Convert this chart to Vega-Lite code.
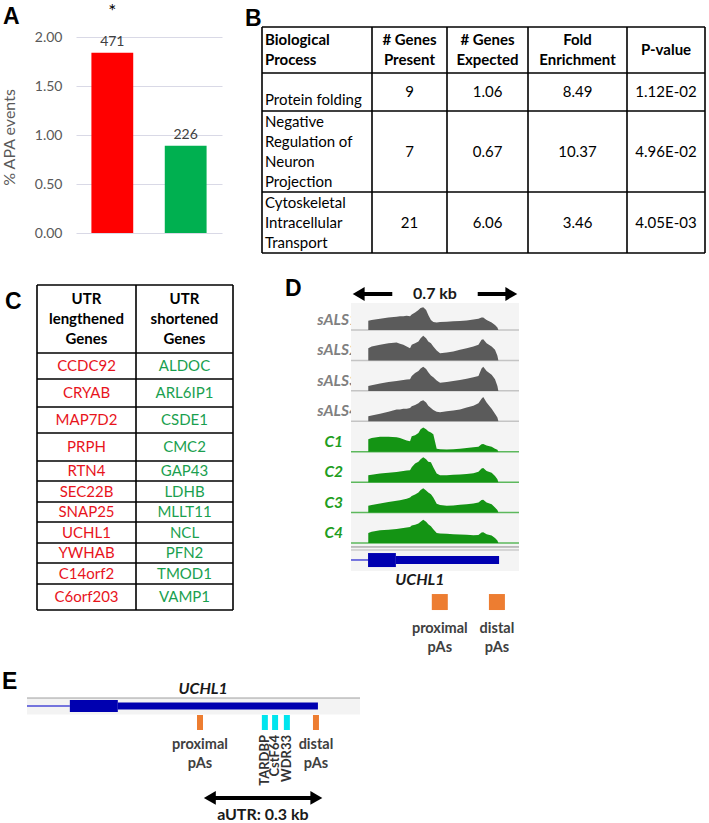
{
  "$schema": "https://vega.github.io/schema/vega-lite/v6.json",
  "padding": {"left": 1, "top": 0, "right": 0, "bottom": 0},
  "background": "white",
  "config": {
    "view": {"stroke": null},
    "font": "Lato",
    "title": {"font": "Liberation Sans", "fontSize": 23, "fontWeight": "bold", "anchor": "start", "frame": "group", "offset": 0, "baseline": "alphabetic", "color": "#000000"}
  },
  "columns": 2,
  "align": "each",
  "bounds": "flush",
  "spacing": 0,
  "resolve": {"scale": {"color": "independent"}},
  "datasets": {
    "tableB": [
      {"row": 0, "col": 0, "text": "Biological\nProcess"},
      {"row": 0, "col": 1, "text": "# Genes\nPresent"},
      {"row": 0, "col": 2, "text": "# Genes\nExpected"},
      {"row": 0, "col": 3, "text": "Fold\nEnrichment"},
      {"row": 0, "col": 4, "text": "P-value"},
      {"row": 1, "col": 0, "text": "Protein folding"},
      {"row": 1, "col": 1, "text": "9"},
      {"row": 1, "col": 2, "text": "1.06"},
      {"row": 1, "col": 3, "text": "8.49"},
      {"row": 1, "col": 4, "text": "1.12E-02"},
      {"row": 2, "col": 0, "text": "Negative\nRegulation of\nNeuron\nProjection"},
      {"row": 2, "col": 1, "text": "7"},
      {"row": 2, "col": 2, "text": "0.67"},
      {"row": 2, "col": 3, "text": "10.37"},
      {"row": 2, "col": 4, "text": "4.96E-02"},
      {"row": 3, "col": 0, "text": "Cytoskeletal\nIntracellular\nTransport"},
      {"row": 3, "col": 1, "text": "21"},
      {"row": 3, "col": 2, "text": "6.06"},
      {"row": 3, "col": 3, "text": "3.46"},
      {"row": 3, "col": 4, "text": "4.05E-03"}
    ],
    "genesC": [
      {"col": 0, "row": 1, "change": "lengthened", "gene": "CCDC92"},
      {"col": 0, "row": 2, "change": "lengthened", "gene": "CRYAB"},
      {"col": 0, "row": 3, "change": "lengthened", "gene": "MAP7D2"},
      {"col": 0, "row": 4, "change": "lengthened", "gene": "PRPH"},
      {"col": 0, "row": 5, "change": "lengthened", "gene": "RTN4"},
      {"col": 0, "row": 6, "change": "lengthened", "gene": "SEC22B"},
      {"col": 0, "row": 7, "change": "lengthened", "gene": "SNAP25"},
      {"col": 0, "row": 8, "change": "lengthened", "gene": "UCHL1"},
      {"col": 0, "row": 9, "change": "lengthened", "gene": "YWHAB"},
      {"col": 0, "row": 10, "change": "lengthened", "gene": "C14orf2"},
      {"col": 0, "row": 11, "change": "lengthened", "gene": "C6orf203"},
      {"col": 1, "row": 1, "change": "shortened", "gene": "ALDOC"},
      {"col": 1, "row": 2, "change": "shortened", "gene": "ARL6IP1"},
      {"col": 1, "row": 3, "change": "shortened", "gene": "CSDE1"},
      {"col": 1, "row": 4, "change": "shortened", "gene": "CMC2"},
      {"col": 1, "row": 5, "change": "shortened", "gene": "GAP43"},
      {"col": 1, "row": 6, "change": "shortened", "gene": "LDHB"},
      {"col": 1, "row": 7, "change": "shortened", "gene": "MLLT11"},
      {"col": 1, "row": 8, "change": "shortened", "gene": "NCL"},
      {"col": 1, "row": 9, "change": "shortened", "gene": "PFN2"},
      {"col": 1, "row": 10, "change": "shortened", "gene": "TMOD1"},
      {"col": 1, "row": 11, "change": "shortened", "gene": "VAMP1"}
    ],
    "tracks": [
      {"sample": "sALS1", "idx": 0, "grp": "sALS"},
      {"sample": "sALS2", "idx": 1, "grp": "sALS"},
      {"sample": "sALS3", "idx": 2, "grp": "sALS"},
      {"sample": "sALS4", "idx": 3, "grp": "sALS"},
      {"sample": "C1", "idx": 4, "grp": "Control"},
      {"sample": "C2", "idx": 5, "grp": "Control"},
      {"sample": "C3", "idx": 6, "grp": "Control"},
      {"sample": "C4", "idx": 7, "grp": "Control"}
    ],
    "cov": [
      {"sample":"sALS1","pos":72,"cov":0.37},{"sample":"sALS1","pos":86,"cov":0.4},{"sample":"sALS1","pos":121,"cov":0.45},{"sample":"sALS1","pos":156,"cov":0.5},{"sample":"sALS1","pos":190,"cov":0.53},{"sample":"sALS1","pos":204,"cov":0.55},{"sample":"sALS1","pos":218,"cov":0.55},{"sample":"sALS1","pos":232,"cov":0.57},{"sample":"sALS1","pos":246,"cov":0.55},{"sample":"sALS1","pos":253,"cov":0.62},{"sample":"sALS1","pos":267,"cov":0.7},{"sample":"sALS1","pos":281,"cov":0.8},{"sample":"sALS1","pos":290,"cov":0.88},{"sample":"sALS1","pos":301,"cov":0.91},{"sample":"sALS1","pos":313,"cov":0.8},{"sample":"sALS1","pos":322,"cov":0.6},{"sample":"sALS1","pos":333,"cov":0.4},{"sample":"sALS1","pos":343,"cov":0.32},{"sample":"sALS1","pos":357,"cov":0.3},{"sample":"sALS1","pos":371,"cov":0.32},{"sample":"sALS1","pos":399,"cov":0.33},{"sample":"sALS1","pos":426,"cov":0.35},{"sample":"sALS1","pos":454,"cov":0.36},{"sample":"sALS1","pos":482,"cov":0.38},{"sample":"sALS1","pos":510,"cov":0.42},{"sample":"sALS1","pos":531,"cov":0.45},{"sample":"sALS1","pos":544,"cov":0.5},{"sample":"sALS1","pos":551,"cov":0.5},{"sample":"sALS1","pos":565,"cov":0.4},{"sample":"sALS1","pos":586,"cov":0.3},{"sample":"sALS1","pos":600,"cov":0.2},{"sample":"sALS1","pos":610,"cov":0.1},{"sample":"sALS1","pos":614,"cov":0},
      {"sample":"sALS2","pos":72,"cov":0.49},{"sample":"sALS2","pos":86,"cov":0.56},{"sample":"sALS2","pos":121,"cov":0.63},{"sample":"sALS2","pos":156,"cov":0.69},{"sample":"sALS2","pos":190,"cov":0.72},{"sample":"sALS2","pos":204,"cov":0.67},{"sample":"sALS2","pos":218,"cov":0.63},{"sample":"sALS2","pos":232,"cov":0.56},{"sample":"sALS2","pos":246,"cov":0.49},{"sample":"sALS2","pos":253,"cov":0.63},{"sample":"sALS2","pos":267,"cov":0.69},{"sample":"sALS2","pos":281,"cov":0.76},{"sample":"sALS2","pos":290,"cov":0.89},{"sample":"sALS2","pos":301,"cov":0.99},{"sample":"sALS2","pos":313,"cov":0.89},{"sample":"sALS2","pos":322,"cov":0.76},{"sample":"sALS2","pos":333,"cov":0.69},{"sample":"sALS2","pos":343,"cov":0.56},{"sample":"sALS2","pos":357,"cov":0.4},{"sample":"sALS2","pos":371,"cov":0.29},{"sample":"sALS2","pos":399,"cov":0.32},{"sample":"sALS2","pos":426,"cov":0.36},{"sample":"sALS2","pos":454,"cov":0.43},{"sample":"sALS2","pos":482,"cov":0.49},{"sample":"sALS2","pos":510,"cov":0.56},{"sample":"sALS2","pos":531,"cov":0.63},{"sample":"sALS2","pos":544,"cov":0.83},{"sample":"sALS2","pos":551,"cov":0.85},{"sample":"sALS2","pos":565,"cov":0.69},{"sample":"sALS2","pos":586,"cov":0.56},{"sample":"sALS2","pos":600,"cov":0.43},{"sample":"sALS2","pos":610,"cov":0.19},{"sample":"sALS2","pos":614,"cov":0},
      {"sample":"sALS3","pos":72,"cov":0.2},{"sample":"sALS3","pos":86,"cov":0.23},{"sample":"sALS3","pos":121,"cov":0.3},{"sample":"sALS3","pos":156,"cov":0.36},{"sample":"sALS3","pos":190,"cov":0.4},{"sample":"sALS3","pos":204,"cov":0.42},{"sample":"sALS3","pos":218,"cov":0.44},{"sample":"sALS3","pos":232,"cov":0.46},{"sample":"sALS3","pos":246,"cov":0.47},{"sample":"sALS3","pos":253,"cov":0.6},{"sample":"sALS3","pos":267,"cov":0.72},{"sample":"sALS3","pos":281,"cov":0.8},{"sample":"sALS3","pos":290,"cov":0.9},{"sample":"sALS3","pos":301,"cov":0.97},{"sample":"sALS3","pos":313,"cov":0.88},{"sample":"sALS3","pos":322,"cov":0.75},{"sample":"sALS3","pos":333,"cov":0.62},{"sample":"sALS3","pos":343,"cov":0.55},{"sample":"sALS3","pos":357,"cov":0.42},{"sample":"sALS3","pos":371,"cov":0.33},{"sample":"sALS3","pos":399,"cov":0.36},{"sample":"sALS3","pos":426,"cov":0.4},{"sample":"sALS3","pos":454,"cov":0.44},{"sample":"sALS3","pos":482,"cov":0.49},{"sample":"sALS3","pos":510,"cov":0.55},{"sample":"sALS3","pos":531,"cov":0.6},{"sample":"sALS3","pos":544,"cov":0.9},{"sample":"sALS3","pos":551,"cov":0.97},{"sample":"sALS3","pos":565,"cov":0.8},{"sample":"sALS3","pos":586,"cov":0.65},{"sample":"sALS3","pos":600,"cov":0.47},{"sample":"sALS3","pos":610,"cov":0.2},{"sample":"sALS3","pos":614,"cov":0},
      {"sample":"sALS4","pos":72,"cov":0.2},{"sample":"sALS4","pos":86,"cov":0.23},{"sample":"sALS4","pos":121,"cov":0.3},{"sample":"sALS4","pos":156,"cov":0.38},{"sample":"sALS4","pos":190,"cov":0.47},{"sample":"sALS4","pos":204,"cov":0.47},{"sample":"sALS4","pos":218,"cov":0.5},{"sample":"sALS4","pos":232,"cov":0.5},{"sample":"sALS4","pos":246,"cov":0.53},{"sample":"sALS4","pos":253,"cov":0.6},{"sample":"sALS4","pos":267,"cov":0.65},{"sample":"sALS4","pos":281,"cov":0.72},{"sample":"sALS4","pos":290,"cov":0.8},{"sample":"sALS4","pos":301,"cov":0.84},{"sample":"sALS4","pos":313,"cov":0.75},{"sample":"sALS4","pos":322,"cov":0.62},{"sample":"sALS4","pos":333,"cov":0.53},{"sample":"sALS4","pos":343,"cov":0.45},{"sample":"sALS4","pos":357,"cov":0.38},{"sample":"sALS4","pos":371,"cov":0.36},{"sample":"sALS4","pos":399,"cov":0.4},{"sample":"sALS4","pos":426,"cov":0.43},{"sample":"sALS4","pos":454,"cov":0.47},{"sample":"sALS4","pos":482,"cov":0.55},{"sample":"sALS4","pos":510,"cov":0.62},{"sample":"sALS4","pos":531,"cov":0.72},{"sample":"sALS4","pos":544,"cov":0.9},{"sample":"sALS4","pos":551,"cov":0.97},{"sample":"sALS4","pos":565,"cov":0.75},{"sample":"sALS4","pos":586,"cov":0.5},{"sample":"sALS4","pos":600,"cov":0.3},{"sample":"sALS4","pos":610,"cov":0.15},{"sample":"sALS4","pos":614,"cov":0},
      {"sample":"C1","pos":72,"cov":0.5},{"sample":"C1","pos":86,"cov":0.55},{"sample":"C1","pos":121,"cov":0.6},{"sample":"C1","pos":156,"cov":0.6},{"sample":"C1","pos":190,"cov":0.58},{"sample":"C1","pos":204,"cov":0.55},{"sample":"C1","pos":218,"cov":0.5},{"sample":"C1","pos":232,"cov":0.45},{"sample":"C1","pos":246,"cov":0.42},{"sample":"C1","pos":253,"cov":0.62},{"sample":"C1","pos":267,"cov":0.66},{"sample":"C1","pos":281,"cov":0.75},{"sample":"C1","pos":290,"cov":0.9},{"sample":"C1","pos":301,"cov":0.97},{"sample":"C1","pos":313,"cov":0.9},{"sample":"C1","pos":322,"cov":0.82},{"sample":"C1","pos":333,"cov":0.77},{"sample":"C1","pos":343,"cov":0.7},{"sample":"C1","pos":357,"cov":0.12},{"sample":"C1","pos":371,"cov":0.1},{"sample":"C1","pos":399,"cov":0.09},{"sample":"C1","pos":426,"cov":0.1},{"sample":"C1","pos":454,"cov":0.12},{"sample":"C1","pos":482,"cov":0.15},{"sample":"C1","pos":510,"cov":0.18},{"sample":"C1","pos":531,"cov":0.2},{"sample":"C1","pos":544,"cov":0.3},{"sample":"C1","pos":551,"cov":0.31},{"sample":"C1","pos":565,"cov":0.25},{"sample":"C1","pos":586,"cov":0.2},{"sample":"C1","pos":600,"cov":0.12},{"sample":"C1","pos":610,"cov":0.08},{"sample":"C1","pos":614,"cov":0},
      {"sample":"C2","pos":72,"cov":0.28},{"sample":"C2","pos":86,"cov":0.3},{"sample":"C2","pos":121,"cov":0.35},{"sample":"C2","pos":156,"cov":0.38},{"sample":"C2","pos":190,"cov":0.41},{"sample":"C2","pos":204,"cov":0.43},{"sample":"C2","pos":218,"cov":0.45},{"sample":"C2","pos":232,"cov":0.47},{"sample":"C2","pos":246,"cov":0.48},{"sample":"C2","pos":253,"cov":0.6},{"sample":"C2","pos":267,"cov":0.75},{"sample":"C2","pos":281,"cov":0.82},{"sample":"C2","pos":290,"cov":0.92},{"sample":"C2","pos":301,"cov":1.0},{"sample":"C2","pos":313,"cov":0.92},{"sample":"C2","pos":322,"cov":0.82},{"sample":"C2","pos":333,"cov":0.8},{"sample":"C2","pos":343,"cov":0.6},{"sample":"C2","pos":357,"cov":0.35},{"sample":"C2","pos":371,"cov":0.28},{"sample":"C2","pos":399,"cov":0.28},{"sample":"C2","pos":426,"cov":0.3},{"sample":"C2","pos":454,"cov":0.31},{"sample":"C2","pos":482,"cov":0.33},{"sample":"C2","pos":510,"cov":0.36},{"sample":"C2","pos":531,"cov":0.42},{"sample":"C2","pos":544,"cov":0.55},{"sample":"C2","pos":551,"cov":0.57},{"sample":"C2","pos":565,"cov":0.45},{"sample":"C2","pos":586,"cov":0.38},{"sample":"C2","pos":600,"cov":0.25},{"sample":"C2","pos":610,"cov":0.12},{"sample":"C2","pos":614,"cov":0},
      {"sample":"C3","pos":72,"cov":0.27},{"sample":"C3","pos":86,"cov":0.3},{"sample":"C3","pos":121,"cov":0.36},{"sample":"C3","pos":156,"cov":0.42},{"sample":"C3","pos":190,"cov":0.47},{"sample":"C3","pos":204,"cov":0.49},{"sample":"C3","pos":218,"cov":0.52},{"sample":"C3","pos":232,"cov":0.55},{"sample":"C3","pos":246,"cov":0.6},{"sample":"C3","pos":253,"cov":0.66},{"sample":"C3","pos":267,"cov":0.72},{"sample":"C3","pos":281,"cov":0.8},{"sample":"C3","pos":290,"cov":0.9},{"sample":"C3","pos":301,"cov":0.97},{"sample":"C3","pos":313,"cov":0.88},{"sample":"C3","pos":322,"cov":0.8},{"sample":"C3","pos":333,"cov":0.73},{"sample":"C3","pos":343,"cov":0.6},{"sample":"C3","pos":357,"cov":0.35},{"sample":"C3","pos":371,"cov":0.3},{"sample":"C3","pos":399,"cov":0.27},{"sample":"C3","pos":426,"cov":0.28},{"sample":"C3","pos":454,"cov":0.31},{"sample":"C3","pos":482,"cov":0.33},{"sample":"C3","pos":510,"cov":0.36},{"sample":"C3","pos":531,"cov":0.4},{"sample":"C3","pos":544,"cov":0.5},{"sample":"C3","pos":551,"cov":0.51},{"sample":"C3","pos":565,"cov":0.4},{"sample":"C3","pos":586,"cov":0.33},{"sample":"C3","pos":600,"cov":0.2},{"sample":"C3","pos":610,"cov":0.1},{"sample":"C3","pos":614,"cov":0},
      {"sample":"C4","pos":72,"cov":0.4},{"sample":"C4","pos":86,"cov":0.45},{"sample":"C4","pos":121,"cov":0.51},{"sample":"C4","pos":156,"cov":0.53},{"sample":"C4","pos":190,"cov":0.56},{"sample":"C4","pos":204,"cov":0.58},{"sample":"C4","pos":218,"cov":0.6},{"sample":"C4","pos":232,"cov":0.62},{"sample":"C4","pos":246,"cov":0.64},{"sample":"C4","pos":253,"cov":0.7},{"sample":"C4","pos":267,"cov":0.73},{"sample":"C4","pos":281,"cov":0.78},{"sample":"C4","pos":290,"cov":0.85},{"sample":"C4","pos":301,"cov":0.93},{"sample":"C4","pos":313,"cov":0.85},{"sample":"C4","pos":322,"cov":0.75},{"sample":"C4","pos":333,"cov":0.67},{"sample":"C4","pos":343,"cov":0.55},{"sample":"C4","pos":357,"cov":0.4},{"sample":"C4","pos":371,"cov":0.38},{"sample":"C4","pos":399,"cov":0.37},{"sample":"C4","pos":426,"cov":0.35},{"sample":"C4","pos":454,"cov":0.34},{"sample":"C4","pos":482,"cov":0.33},{"sample":"C4","pos":510,"cov":0.31},{"sample":"C4","pos":531,"cov":0.32},{"sample":"C4","pos":544,"cov":0.42},{"sample":"C4","pos":551,"cov":0.43},{"sample":"C4","pos":565,"cov":0.35},{"sample":"C4","pos":586,"cov":0.3},{"sample":"C4","pos":600,"cov":0.2},{"sample":"C4","pos":610,"cov":0.1},{"sample":"C4","pos":614,"cov":0}
    ],
    "geneD": [
      {"part": "intron", "start": 0, "end": 71},
      {"part": "CDS", "start": 71, "end": 187},
      {"part": "UTR", "start": 187, "end": 617}
    ],
    "pasD": [
      {"site": "proximal", "pos": 370, "label": "proximal\npAs"},
      {"site": "distal", "pos": 608, "label": "distal\npAs"}
    ],
    "geneE": [
      {"part": "intron", "start": 0, "end": 109},
      {"part": "CDS", "start": 109, "end": 231},
      {"part": "UTR", "start": 231, "end": 740}
    ],
    "pasE": [
      {"site": "proximal", "pos": 440, "label": "proximal\npAs"},
      {"site": "distal", "pos": 735, "label": "distal\npAs"}
    ],
    "rbp": [
      {"protein": "TARDBP", "pos": 605},
      {"protein": "CstF64", "pos": 631},
      {"protein": "WDR33", "pos": 661}
    ]
  },
  "concat": [
    {
      "width": 146,
      "height": 233,
      "title": {"text": "A", "dx": -73, "dy": 33},
      "data": {"values": [
        {"group": "UTR lengthened", "pct": 1.84, "events": 471, "sig": "*"},
        {"group": "UTR shortened", "pct": 0.89, "events": 226, "sig": ""}
      ]},
      "encoding": {
        "x": {"field": "group", "type": "nominal", "axis": null, "scale": {"paddingInner": 0.43, "paddingOuter": 0.21}}
      },
      "layer": [
        {
          "mark": {"type": "bar"},
          "encoding": {
            "y": {"field": "pct", "type": "quantitative", "scale": {"domain": [0, 2.38], "nice": false},
              "axis": {"values": [0, 0.5, 1, 1.5, 2], "format": ".2f", "domain": false, "ticks": false, "tickSize": 0, "labelPadding": 14, "labelFontSize": 14, "labelColor": "#595959", "labelFont": "Lato", "grid": true, "gridColor": "#d9d9e6", "gridWidth": 1, "title": "% APA events", "titleFont": "Lato", "titleFontSize": 16, "titleFontWeight": "normal", "titleColor": "#595959", "titlePadding": 17, "titleY": 137}},
            "color": {"field": "group", "type": "nominal", "scale": {"domain": ["UTR lengthened", "UTR shortened"], "range": ["#ff0000", "#00b050"]}, "legend": null}
          }
        },
        {
          "mark": {"type": "text", "baseline": "bottom", "dy": -4, "fontSize": 14, "color": "#404040"},
          "encoding": {"y": {"field": "pct", "type": "quantitative"}, "text": {"field": "events", "type": "nominal"}}
        },
        {
          "mark": {"type": "text", "baseline": "top", "dy": 3, "fontSize": 19, "color": "#000000"},
          "encoding": {"y": {"datum": 2.38, "type": "quantitative"}, "text": {"field": "sig", "type": "nominal"}}
        }
      ]
    },
    {
      "width": 487,
      "height": 233,
      "title": {"text": "B", "dx": 23, "dy": 35},
      "layer": [
        {
          "data": {"values": [{"b": -0.5}, {"b": 0.5}, {"b": 1.5}, {"b": 2.5}, {"b": 3.5}]},
          "mark": {"type": "rule", "color": "#000000", "strokeWidth": 1.6},
          "encoding": {
            "y": {"field": "b", "type": "quantitative", "axis": null, "scale": {"domain": [-0.5, 0.5, 1.5, 2.5, 3.5], "range": [27, 73, 111, 192, 253], "nice": false, "zero": false}},
            "x": {"datum": -0.5, "type": "quantitative", "axis": null, "scale": {"domain": [-0.5, 0.5, 1.5, 2.5, 3.5, 4.5], "range": [40, 150, 225, 306, 405, 483], "nice": false, "zero": false}},
            "x2": {"datum": 4.5}
          }
        },
        {
          "data": {"values": [{"b": -0.5}, {"b": 0.5}, {"b": 1.5}, {"b": 2.5}, {"b": 3.5}, {"b": 4.5}]},
          "mark": {"type": "rule", "color": "#000000", "strokeWidth": 1.6},
          "encoding": {
            "x": {"field": "b", "type": "quantitative", "axis": null},
            "y": {"datum": -0.5, "type": "quantitative", "axis": null},
            "y2": {"datum": 3.5}
          }
        },
        {
          "data": {"name": "tableB"},
          "transform": [{"filter": "datum.row == 0 && datum.col == 0"}],
          "mark": {"type": "text", "align": "left", "baseline": "middle", "dx": 3, "dy": -10, "fontSize": 15, "fontWeight": "bold", "lineBreak": "\n", "lineHeight": 20, "color": "#000000"},
          "encoding": {"x": {"datum": -0.5, "type": "quantitative", "axis": null}, "y": {"field": "row", "type": "quantitative", "axis": null}, "text": {"field": "text", "type": "nominal"}}
        },
        {
          "data": {"name": "tableB"},
          "transform": [{"filter": "datum.row == 0 && datum.col > 0 && indexof(datum.text, '\\n') >= 0"}],
          "mark": {"type": "text", "align": "center", "baseline": "middle", "dy": -10, "fontSize": 15, "fontWeight": "bold", "lineBreak": "\n", "lineHeight": 20, "color": "#000000"},
          "encoding": {"x": {"field": "col", "type": "quantitative", "axis": null}, "y": {"field": "row", "type": "quantitative", "axis": null}, "text": {"field": "text", "type": "nominal"}}
        },
        {
          "data": {"name": "tableB"},
          "transform": [{"filter": "datum.row == 0 && datum.col > 0 && indexof(datum.text, '\\n') < 0"}],
          "mark": {"type": "text", "align": "center", "baseline": "middle", "fontSize": 15, "fontWeight": "bold", "color": "#000000"},
          "encoding": {"x": {"field": "col", "type": "quantitative", "axis": null}, "y": {"field": "row", "type": "quantitative", "axis": null}, "text": {"field": "text", "type": "nominal"}}
        },
        {
          "data": {"name": "tableB"},
          "transform": [{"filter": "datum.row > 0 && datum.col == 0 && length(split(datum.text, '\\n')) == 1"}],
          "mark": {"type": "text", "align": "left", "baseline": "middle", "dx": 3, "dy": 8, "fontSize": 15, "color": "#000000"},
          "encoding": {"x": {"datum": -0.5, "type": "quantitative", "axis": null}, "y": {"field": "row", "type": "quantitative", "axis": null}, "text": {"field": "text", "type": "nominal"}}
        },
        {
          "data": {"name": "tableB"},
          "transform": [{"filter": "datum.row > 0 && datum.col == 0 && length(split(datum.text, '\\n')) == 3"}],
          "mark": {"type": "text", "align": "left", "baseline": "middle", "dx": 3, "dy": -20, "fontSize": 15, "lineBreak": "\n", "lineHeight": 20, "color": "#000000"},
          "encoding": {"x": {"datum": -0.5, "type": "quantitative", "axis": null}, "y": {"field": "row", "type": "quantitative", "axis": null}, "text": {"field": "text", "type": "nominal"}}
        },
        {
          "data": {"name": "tableB"},
          "transform": [{"filter": "datum.row > 0 && datum.col == 0 && length(split(datum.text, '\\n')) == 4"}],
          "mark": {"type": "text", "align": "left", "baseline": "middle", "dx": 3, "dy": -30, "fontSize": 15, "lineBreak": "\n", "lineHeight": 20, "color": "#000000"},
          "encoding": {"x": {"datum": -0.5, "type": "quantitative", "axis": null}, "y": {"field": "row", "type": "quantitative", "axis": null}, "text": {"field": "text", "type": "nominal"}}
        },
        {
          "data": {"name": "tableB"},
          "transform": [{"filter": "datum.row > 0 && datum.col > 0"}],
          "mark": {"type": "text", "align": "center", "baseline": "middle", "fontSize": 15, "color": "#000000"},
          "encoding": {"x": {"field": "col", "type": "quantitative", "axis": null}, "y": {"field": "row", "type": "quantitative", "axis": null}, "text": {"field": "text", "type": "nominal"}}
        }
      ]
    },
    {
      "width": 146,
      "height": 438,
      "title": {"text": "C", "dx": -71, "dy": 85},
      "layer": [
        {
          "data": {"values": [{"b": -0.5}, {"b": 0.5}, {"b": 1.5}, {"b": 2.5}, {"b": 3.5}, {"b": 4.5}, {"b": 5.5}, {"b": 6.5}, {"b": 7.5}, {"b": 8.5}, {"b": 9.5}, {"b": 10.5}, {"b": 11.5}]},
          "mark": {"type": "rule", "color": "#000000", "strokeWidth": 1.6},
          "encoding": {
            "y": {"field": "b", "type": "quantitative", "axis": null, "scale": {"domain": [-0.5, 0.5, 1.5, 2.5, 3.5, 4.5, 5.5, 6.5, 7.5, 8.5, 9.5, 10.5, 11.5], "range": [52, 120, 146, 174, 200, 228, 248, 269, 289, 310, 330, 351, 377], "nice": false, "zero": false}},
            "x": {"datum": -0.5, "type": "quantitative", "axis": null, "scale": {"domain": [-0.5, 0.5, 1.5], "range": [-39, 60, 157], "nice": false, "zero": false}},
            "x2": {"datum": 1.5}
          }
        },
        {
          "data": {"values": [{"b": -0.5}, {"b": 0.5}, {"b": 1.5}]},
          "mark": {"type": "rule", "color": "#000000", "strokeWidth": 1.6},
          "encoding": {
            "x": {"field": "b", "type": "quantitative", "axis": null},
            "y": {"datum": -0.5, "type": "quantitative", "axis": null},
            "y2": {"datum": 11.5}
          }
        },
        {
          "data": {"values": [{"col": 0, "row": 0, "text": "UTR\nlengthened\nGenes"}, {"col": 1, "row": 0, "text": "UTR\nshortened\nGenes"}]},
          "mark": {"type": "text", "align": "center", "baseline": "middle", "dy": -20, "fontSize": 15, "fontWeight": "bold", "lineBreak": "\n", "lineHeight": 20, "color": "#000000"},
          "encoding": {"x": {"field": "col", "type": "quantitative", "axis": null}, "y": {"field": "row", "type": "quantitative", "axis": null}, "text": {"field": "text", "type": "nominal"}}
        },
        {
          "data": {"name": "genesC"},
          "mark": {"type": "text", "align": "center", "baseline": "middle", "fontSize": 15},
          "encoding": {
            "x": {"field": "col", "type": "quantitative", "axis": null},
            "y": {"field": "row", "type": "quantitative", "axis": null},
            "text": {"field": "gene", "type": "nominal"},
            "color": {"field": "change", "type": "nominal", "scale": {"domain": ["lengthened", "shortened"], "range": ["#e8141c", "#1a9f4f"]}, "legend": null}
          }
        }
      ]
    },
    {
      "width": 297,
      "height": 438,
      "title": {"text": "D", "dx": 63, "dy": 72},
      "resolve": {"scale": {"y": "independent"}},
      "layer": [
        {
          "layer": [
            {
              "data": {"name": "tracks"},
              "transform": [{"filter": "datum.grp == 'sALS'"}],
              "mark": {"type": "text", "align": "right", "baseline": "middle", "dx": 7, "dy": -10, "fontSize": 15.5, "fontStyle": "italic", "fontWeight": "bold", "color": "#808080"},
              "encoding": {
                "x": {"datum": 0, "type": "quantitative", "axis": null, "scale": {"domain": [0, 700], "range": [129, 297], "nice": false, "zero": false}},
                "y": {"field": "idx", "type": "quantitative", "axis": null, "scale": {"domain": [0, 7], "range": [97, 310], "nice": false, "zero": false}},
                "text": {"field": "sample", "type": "nominal"}
              }
            },
            {
              "data": {"name": "tracks"},
              "transform": [{"filter": "datum.grp == 'Control'"}],
              "mark": {"type": "text", "align": "right", "baseline": "middle", "dx": -8, "dy": -10, "fontSize": 15.5, "fontStyle": "italic", "fontWeight": "bold", "color": "#1f9e1f"},
              "encoding": {
                "x": {"datum": 0, "type": "quantitative", "axis": null},
                "y": {"field": "idx", "type": "quantitative", "axis": null},
                "text": {"field": "sample", "type": "nominal"}
              }
            },
            {
              "data": {"values": [{"region": "browser"}]},
              "mark": {"type": "rect", "color": "#f4f4f4"},
              "encoding": {
                "x": {"datum": 0, "type": "quantitative", "axis": null},
                "x2": {"datum": 700},
                "y": {"datum": -0.887, "type": "quantitative", "axis": null},
                "y2": {"datum": 7.92}
              }
            },
            {
              "data": {"name": "tracks"},
              "mark": {"type": "rule", "strokeWidth": 1.5},
              "encoding": {
                "x": {"datum": 0, "type": "quantitative", "axis": null},
                "x2": {"datum": 700},
                "y": {"field": "idx", "type": "quantitative", "axis": null},
                "color": {"field": "grp", "type": "nominal", "scale": {"domain": ["sALS", "Control"], "range": ["#c4c4c4", "#5cb85c"]}, "legend": null}
              }
            },
            {
              "data": {"values": [{"line": "upper"}]},
              "mark": {"type": "rule", "color": "#8c8c8c", "strokeWidth": 1},
              "encoding": {
                "x": {"datum": 0, "type": "quantitative", "axis": null},
                "x2": {"datum": 700},
                "y": {"datum": 7.13, "type": "quantitative", "axis": null}
              }
            },
            {
              "data": {"values": [{"line": "lower"}]},
              "mark": {"type": "rule", "color": "#b8b8b8", "strokeWidth": 1},
              "encoding": {
                "x": {"datum": 0, "type": "quantitative", "axis": null},
                "x2": {"datum": 700},
                "y": {"datum": 7.23, "type": "quantitative", "axis": null}
              }
            },
            {
              "data": {"values": [{"from": 22, "to": 172}, {"from": 528, "to": 678}]},
              "mark": {"type": "rule", "color": "#000000", "strokeWidth": 4},
              "encoding": {
                "x": {"field": "from", "type": "quantitative", "axis": null},
                "x2": {"field": "to"},
                "y": {"datum": -1.183, "type": "quantitative", "axis": null}
              }
            },
            {
              "data": {"values": [{"end": "left"}]},
              "mark": {"type": "point", "shape": "triangle-left", "filled": true, "size": 190, "color": "#000000", "opacity": 1},
              "encoding": {
                "x": {"datum": 32, "type": "quantitative", "axis": null},
                "y": {"datum": -1.183, "type": "quantitative", "axis": null}
              }
            },
            {
              "data": {"values": [{"end": "right"}]},
              "mark": {"type": "point", "shape": "triangle-right", "filled": true, "size": 190, "color": "#000000", "opacity": 1},
              "encoding": {
                "x": {"datum": 668, "type": "quantitative", "axis": null},
                "y": {"datum": -1.183, "type": "quantitative", "axis": null}
              }
            },
            {
              "data": {"values": [{"label": "0.7 kb"}]},
              "mark": {"type": "text", "align": "center", "baseline": "middle", "fontSize": 16, "fontWeight": "bold", "color": "#1a1a1a"},
              "encoding": {
                "x": {"datum": 350, "type": "quantitative", "axis": null},
                "y": {"datum": -1.183, "type": "quantitative", "axis": null},
                "text": {"field": "label", "type": "nominal"}
              }
            },
            {
              "data": {"name": "geneD"},
              "transform": [{"filter": "datum.part == 'intron'"}],
              "mark": {"type": "rule", "color": "#4a4ad6", "strokeWidth": 1.5},
              "encoding": {
                "x": {"field": "start", "type": "quantitative", "axis": null},
                "x2": {"field": "end"},
                "y": {"datum": 7.558, "type": "quantitative", "axis": null}
              }
            },
            {
              "data": {"name": "geneD"},
              "transform": [{"filter": "datum.part == 'CDS'"}],
              "mark": {"type": "rect", "color": "#0000b0"},
              "encoding": {
                "x": {"field": "start", "type": "quantitative", "axis": null},
                "x2": {"field": "end"},
                "y": {"datum": 7.33, "type": "quantitative", "axis": null},
                "y2": {"datum": 7.79}
              }
            },
            {
              "data": {"name": "geneD"},
              "transform": [{"filter": "datum.part == 'UTR'"}],
              "mark": {"type": "rect", "color": "#0000b0"},
              "encoding": {
                "x": {"field": "start", "type": "quantitative", "axis": null},
                "x2": {"field": "end"},
                "y": {"datum": 7.43, "type": "quantitative", "axis": null},
                "y2": {"datum": 7.69}
              }
            },
            {
              "data": {"values": [{"gene": "UCHL1"}]},
              "mark": {"type": "text", "align": "center", "baseline": "middle", "fontSize": 16, "fontStyle": "italic", "fontWeight": "bold", "color": "#1a1a1a"},
              "encoding": {
                "x": {"datum": 287, "type": "quantitative", "axis": null},
                "y": {"datum": 8.216, "type": "quantitative", "axis": null},
                "text": {"field": "gene", "type": "nominal"}
              }
            },
            {
              "data": {"name": "pasD"},
              "mark": {"type": "point", "shape": "square", "filled": true, "size": 256, "color": "#ed7d31", "opacity": 1},
              "encoding": {
                "x": {"field": "pos", "type": "quantitative", "axis": null},
                "y": {"datum": 8.94, "type": "quantitative", "axis": null}
              }
            },
            {
              "data": {"name": "pasD"},
              "mark": {"type": "text", "align": "center", "baseline": "middle", "fontSize": 14.5, "fontWeight": "bold", "lineBreak": "\n", "lineHeight": 19, "color": "#404040"},
              "encoding": {
                "x": {"field": "pos", "type": "quantitative", "axis": null},
                "y": {"datum": 9.826, "type": "quantitative", "axis": null},
                "text": {"field": "label", "type": "nominal"}
              }
            }
          ]
        },
        {"data": {"name": "cov"}, "transform": [{"filter": "datum.sample == 'sALS1'"}], "mark": {"type": "area", "color": "#5b5b5b"},
         "encoding": {"x": {"field": "pos", "type": "quantitative", "axis": null}, "y": {"field": "cov", "type": "quantitative", "axis": null, "scale": {"domain": [0, 1], "range": [97, 72], "nice": false, "zero": false}}}},
        {"data": {"name": "cov"}, "transform": [{"filter": "datum.sample == 'sALS2'"}], "mark": {"type": "area", "color": "#5b5b5b"},
         "encoding": {"x": {"field": "pos", "type": "quantitative", "axis": null}, "y": {"field": "cov", "type": "quantitative", "axis": null, "scale": {"domain": [0, 1], "range": [127.4, 102.4], "nice": false, "zero": false}}}},
        {"data": {"name": "cov"}, "transform": [{"filter": "datum.sample == 'sALS3'"}], "mark": {"type": "area", "color": "#5b5b5b"},
         "encoding": {"x": {"field": "pos", "type": "quantitative", "axis": null}, "y": {"field": "cov", "type": "quantitative", "axis": null, "scale": {"domain": [0, 1], "range": [157.9, 132.9], "nice": false, "zero": false}}}},
        {"data": {"name": "cov"}, "transform": [{"filter": "datum.sample == 'sALS4'"}], "mark": {"type": "area", "color": "#5b5b5b"},
         "encoding": {"x": {"field": "pos", "type": "quantitative", "axis": null}, "y": {"field": "cov", "type": "quantitative", "axis": null, "scale": {"domain": [0, 1], "range": [188.3, 163.3], "nice": false, "zero": false}}}},
        {"data": {"name": "cov"}, "transform": [{"filter": "datum.sample == 'C1'"}], "mark": {"type": "area", "color": "#149414"},
         "encoding": {"x": {"field": "pos", "type": "quantitative", "axis": null}, "y": {"field": "cov", "type": "quantitative", "axis": null, "scale": {"domain": [0, 1], "range": [218.7, 193.7], "nice": false, "zero": false}}}},
        {"data": {"name": "cov"}, "transform": [{"filter": "datum.sample == 'C2'"}], "mark": {"type": "area", "color": "#149414"},
         "encoding": {"x": {"field": "pos", "type": "quantitative", "axis": null}, "y": {"field": "cov", "type": "quantitative", "axis": null, "scale": {"domain": [0, 1], "range": [249.2, 224.2], "nice": false, "zero": false}}}},
        {"data": {"name": "cov"}, "transform": [{"filter": "datum.sample == 'C3'"}], "mark": {"type": "area", "color": "#149414"},
         "encoding": {"x": {"field": "pos", "type": "quantitative", "axis": null}, "y": {"field": "cov", "type": "quantitative", "axis": null, "scale": {"domain": [0, 1], "range": [279.6, 254.6], "nice": false, "zero": false}}}},
        {"data": {"name": "cov"}, "transform": [{"filter": "datum.sample == 'C4'"}], "mark": {"type": "area", "color": "#149414"},
         "encoding": {"x": {"field": "pos", "type": "quantitative", "axis": null}, "y": {"field": "cov", "type": "quantitative", "axis": null, "scale": {"domain": [0, 1], "range": [310, 285], "nice": false, "zero": false}}}}
      ]
    },
    {
      "width": 146,
      "height": 152,
      "title": {"text": "E", "dx": -74, "dy": 27},
      "layer": [
        {
          "data": {"values": [{"region": "browser"}]},
          "mark": {"type": "rect", "color": "#f3f3f3"},
          "encoding": {
            "x": {"datum": 0, "type": "quantitative", "axis": null, "scale": {"domain": [0, 847], "range": [-49, 284], "nice": false, "zero": false}},
            "x2": {"datum": 847},
            "y": {"datum": 1.33, "type": "quantitative", "axis": null, "scale": {"domain": [-1, 1], "range": [41, 29], "nice": false, "zero": false}},
            "y2": {"datum": -1.4}
          }
        },
        {
          "data": {"values": [{"line": "ruler"}]},
          "mark": {"type": "rule", "color": "#9e9e9e", "strokeWidth": 1},
          "encoding": {
            "x": {"datum": 0, "type": "quantitative", "axis": null},
            "x2": {"datum": 847},
            "y": {"datum": 1.33, "type": "quantitative", "axis": null}
          }
        },
        {
          "data": {"name": "geneE"},
          "transform": [{"filter": "datum.part == 'intron'"}],
          "mark": {"type": "rule", "color": "#4a4ad6", "strokeWidth": 1.5},
          "encoding": {
            "x": {"field": "start", "type": "quantitative", "axis": null},
            "x2": {"field": "end"},
            "y": {"datum": 0, "type": "quantitative", "axis": null}
          }
        },
        {
          "data": {"name": "geneE"},
          "transform": [{"filter": "datum.part == 'CDS'"}],
          "mark": {"type": "rect", "color": "#0000b0"},
          "encoding": {
            "x": {"field": "start", "type": "quantitative", "axis": null},
            "x2": {"field": "end"},
            "y": {"datum": 1, "type": "quantitative", "axis": null},
            "y2": {"datum": -1}
          }
        },
        {
          "data": {"name": "geneE"},
          "transform": [{"filter": "datum.part == 'UTR'"}],
          "mark": {"type": "rect", "color": "#0000b0"},
          "encoding": {
            "x": {"field": "start", "type": "quantitative", "axis": null},
            "x2": {"field": "end"},
            "y": {"datum": 0.58, "type": "quantitative", "axis": null},
            "y2": {"datum": -0.58}
          }
        },
        {
          "data": {"values": [{"gene": "UCHL1"}]},
          "mark": {"type": "text", "align": "center", "baseline": "middle", "fontSize": 16, "fontStyle": "italic", "fontWeight": "bold", "color": "#1a1a1a"},
          "encoding": {
            "x": {"datum": 448, "type": "quantitative", "axis": null},
            "y": {"datum": 2.83, "type": "quantitative", "axis": null},
            "text": {"field": "gene", "type": "nominal"}
          }
        },
        {
          "data": {"name": "pasE"},
          "mark": {"type": "rule", "color": "#ed7d31", "strokeWidth": 6},
          "encoding": {
            "x": {"field": "pos", "type": "quantitative", "axis": null},
            "y": {"datum": -1.5, "type": "quantitative", "axis": null},
            "y2": {"datum": -4}
          }
        },
        {
          "data": {"name": "rbp"},
          "mark": {"type": "rule", "color": "#00e5ee", "strokeWidth": 6},
          "encoding": {
            "x": {"field": "pos", "type": "quantitative", "axis": null},
            "y": {"datum": -1.5, "type": "quantitative", "axis": null},
            "y2": {"datum": -4}
          }
        },
        {
          "data": {"name": "pasE"},
          "mark": {"type": "text", "align": "center", "baseline": "middle", "fontSize": 14.5, "fontWeight": "bold", "lineBreak": "\n", "lineHeight": 19, "color": "#404040"},
          "encoding": {
            "x": {"field": "pos", "type": "quantitative", "axis": null},
            "y": {"datum": -6.5, "type": "quantitative", "axis": null},
            "text": {"field": "label", "type": "nominal"}
          }
        },
        {
          "data": {"name": "rbp"},
          "mark": {"type": "text", "angle": 270, "align": "right", "baseline": "middle", "fontSize": 13, "fontWeight": "bold", "color": "#333333"},
          "encoding": {
            "x": {"field": "pos", "type": "quantitative", "axis": null},
            "y": {"datum": -4.83, "type": "quantitative", "axis": null},
            "text": {"field": "protein", "type": "nominal"}
          }
        },
        {
          "data": {"values": [{"from": 465, "to": 736, "label": "aUTR: 0.3 kb"}]},
          "layer": [
            {
              "mark": {"type": "rule", "color": "#000000", "strokeWidth": 4},
              "encoding": {
                "x": {"field": "from", "type": "quantitative", "axis": null},
                "x2": {"field": "to"},
                "y": {"datum": -15.33, "type": "quantitative", "axis": null}
              }
            },
            {
              "mark": {"type": "point", "shape": "triangle-left", "filled": true, "size": 190, "color": "#000000", "opacity": 1},
              "encoding": {
                "x": {"field": "from", "type": "quantitative", "axis": null},
                "y": {"datum": -15.33, "type": "quantitative", "axis": null}
              }
            },
            {
              "mark": {"type": "point", "shape": "triangle-right", "filled": true, "size": 190, "color": "#000000", "opacity": 1},
              "encoding": {
                "x": {"field": "to", "type": "quantitative", "axis": null},
                "y": {"datum": -15.33, "type": "quantitative", "axis": null}
              }
            },
            {
              "mark": {"type": "text", "align": "center", "baseline": "middle", "fontSize": 16, "fontWeight": "bold", "color": "#1a1a1a"},
              "encoding": {
                "x": {"datum": 600, "type": "quantitative", "axis": null},
                "y": {"datum": -18.17, "type": "quantitative", "axis": null},
                "text": {"field": "label", "type": "nominal"}
              }
            }
          ]
        }
      ]
    }
  ]
}
